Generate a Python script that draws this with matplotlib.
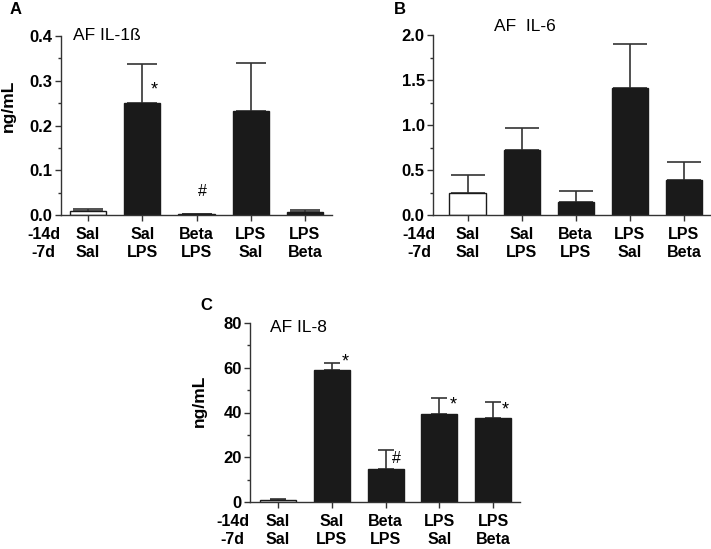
import matplotlib
matplotlib.use("Agg")
import matplotlib.pyplot as plt
from matplotlib.ticker import MultipleLocator

plt.rcParams['font.family'] = ['Liberation Sans', 'DejaVu Sans']

groups = ["Sal\nSal", "Sal\nLPS", "Beta\nLPS", "LPS\nSal", "LPS\nBeta"]
row_labels = "-14d\n-7d"

il1b_mean = [0.010, 0.250, 0.002, 0.232, 0.007]
il1b_err = [0.004, 0.088, 0.001, 0.108, 0.004]

il6_mean = [0.24, 0.72, 0.14, 1.41, 0.39]
il6_err = [0.20, 0.25, 0.13, 0.49, 0.195]

il8_mean = [1.0, 59.0, 14.6, 39.2, 37.5]
il8_err = [0.5, 3.0, 8.8, 7.5, 7.1]

W, H = 711, 549
fig = plt.figure(figsize=(W / 100, H / 100), dpi=100)

TICK_FS = 11.5


def px_axes(left, top, right, bottom):
    return fig.add_axes([left / W, 1 - bottom / H, (right - left) / W, (bottom - top) / H])


def panel(ax, means, errs, ymax, major, minor, xleft, capsize, title, title_xy, row_dx):
    x = list(range(len(means)))
    colors = ['white'] + ['#1a1a1a'] * (len(means) - 1)
    ax.bar(x, means, width=0.67, color=colors, edgecolor='#1a1a1a', linewidth=1.0, zorder=2)
    ax.errorbar(x, means, yerr=[[0] * len(errs), errs], fmt='none', ecolor='#333333',
                elinewidth=1.2, capsize=capsize, capthick=1.2, zorder=1)
    ax.set_xlim(xleft, len(means) - 0.5)
    ax.set_ylim(0, ymax)
    ax.spines['top'].set_visible(False)
    ax.spines['right'].set_visible(False)
    for s in ('left', 'bottom'):
        ax.spines[s].set_linewidth(1.0)
        ax.spines[s].set_color('#333333')
    ax.yaxis.set_major_locator(MultipleLocator(major))
    ax.yaxis.set_minor_locator(MultipleLocator(minor))
    ax.set_xticks(x)
    ax.set_xticklabels(groups, fontsize=TICK_FS, fontweight='bold', linespacing=1.28)
    ax.tick_params(axis='x', length=4, width=1.0, pad=4.5, color='#333333')
    ax.tick_params(axis='y', which='major', length=4, width=1.0, pad=2, labelsize=12, color='#333333')
    ax.tick_params(axis='y', which='minor', length=2.5, width=1.0, color='#333333')
    for lab in ax.get_yticklabels():
        lab.set_fontweight('bold')
    ax.set_facecolor('none')
    ax.annotate(row_labels, xy=(0, 0), xycoords='axes fraction', xytext=(row_dx, -8.5),
                textcoords='offset points', ha='center', va='top', fontsize=TICK_FS,
                fontweight='bold', linespacing=1.28)
    ax.text(title_xy[0], title_xy[1], title, transform=ax.transAxes, fontsize=12.5,
            ha='left', va='center')


# Panel A
axA = px_axes(61, 36, 332, 215)
panel(axA, il1b_mean, il1b_err, 0.4, 0.1, 0.05, -0.5, 11, "AF IL-1ß", (0.045, 1.0), -12.5)
axA.yaxis.set_major_formatter(plt.FormatStrFormatter('%.1f'))
axA.text(1.22, 0.28, "*", fontsize=13, ha='center', va='center')
axA.text(2.1, 0.053, "#", fontsize=11.5, ha='center', va='center')

# Panel B
axB = px_axes(433, 35, 711, 215)
panel(axB, il6_mean, il6_err, 2.0, 0.5, 0.25, -0.64, 12, "AF  IL-6", (0.22, 1.05), -10)
axB.yaxis.set_major_formatter(plt.FormatStrFormatter('%.1f'))

# Panel C
axC = px_axes(250, 323, 520, 502)
panel(axC, il8_mean, il8_err, 80, 20, 10, -0.52, 6, "AF IL-8", (0.074, 0.975), -12.5)
axC.text(1.25, 62.5, "*", fontsize=13, ha='center', va='center')
axC.text(2.2, 19.5, "#", fontsize=11.5, ha='center', va='center')
axC.text(3.26, 43.5, "*", fontsize=13, ha='center', va='center')
axC.text(4.22, 41.0, "*", fontsize=13, ha='center', va='center')

# y labels and panel letters
fig.text(8 / W, 1 - 106 / H, "ng/mL", rotation=90, fontsize=12.5, fontweight='bold',
         ha='center', va='center')
fig.text(199 / W, 1 - 401 / H, "ng/mL", rotation=90, fontsize=12.5, fontweight='bold',
         ha='center', va='center')
fig.text(16 / W, 1 - 9 / H, "A", fontsize=12, fontweight='bold', ha='center', va='center')
fig.text(400 / W, 1 - 9 / H, "B", fontsize=12, fontweight='bold', ha='center', va='center')
fig.text(206 / W, 1 - 305 / H, "C", fontsize=12, fontweight='bold', ha='center', va='center')

fig.savefig("out.png", dpi=100)
